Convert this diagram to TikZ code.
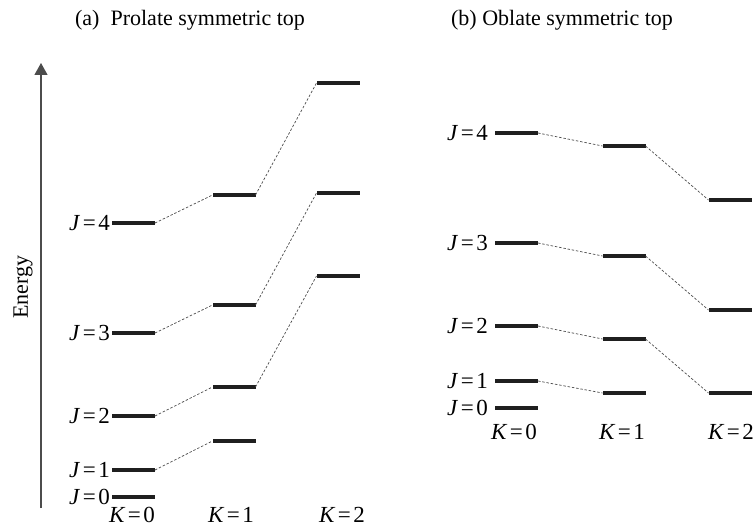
\documentclass[tikz,border=0pt]{standalone}
\usepackage{fontspec}
\setmainfont{Liberation Serif}
\usetikzlibrary{arrows.meta}
\newcommand{\qnum}[2]{\textit{#1}\kern2.5pt=\kern2.5pt#2}
\tikzset{
  lev/.style={fill=black!88, minimum width=43pt, minimum height=3.5pt, inner sep=0pt, outer sep=0pt},
  conn/.style={draw=black!70, line width=0.7pt, dash pattern=on 2.5pt off 1.8pt},
  jl/.style={anchor=east, inner sep=0pt, font=\fontsize{23}{25}\selectfont},
  kl/.style={anchor=base, inner sep=0pt, font=\fontsize{23}{25}\selectfont},
  ttl/.style={anchor=base, inner sep=0pt, font=\fontsize{22}{24}\selectfont},
}
\begin{document}
\begin{tikzpicture}[x=1pt,y=-1pt]
\useasboundingbox (0,0) rectangle (755,526);
% titles
\node[ttl] (ta) at (190,26) {(a)\ \ Prolate symmetric top};
\node[ttl] (tb) at (562,26) {(b) Oblate symmetric top};
% energy axis
\coordinate (ax0) at (41,508);
\coordinate (ax1) at (41,63);
\draw[black!70, line width=1.1pt, -{Triangle[width=13pt,length=12pt]}] (ax0) -- (ax1);
\node[rotate=90, inner sep=0pt, font=\fontsize{22}{24}\selectfont] (en) at (23,287) {Energy};
% prolate levels
\node[lev] (p00) at (133.5,497) {};
\node[lev] (p10) at (133.5,470) {};
\node[lev] (p20) at (133.5,416) {};
\node[lev] (p30) at (133.5,333) {};
\node[lev] (p40) at (133.5,223) {};
\node[lev] (p11) at (234,441) {};
\node[lev] (p21) at (234,387) {};
\node[lev] (p31) at (234,305) {};
\node[lev] (p41) at (234,195) {};
\node[lev] (p22) at (338,276) {};
\node[lev] (p32) at (338,193) {};
\node[lev] (p42) at (338,83) {};
\draw[conn] (p10.east) -- (p11.west);
\draw[conn] (p20.east) -- (p21.west);
\draw[conn] (p30.east) -- (p31.west);
\draw[conn] (p40.east) -- (p41.west);
\draw[conn] (p21.east) -- (p22.west);
\draw[conn] (p31.east) -- (p32.west);
\draw[conn] (p41.east) -- (p42.west);
\node[jl] (pj0) at ([xshift=-2pt]p00.west) {\qnum{J}{0}};
\node[jl] (pj1) at ([xshift=-2pt]p10.west) {\qnum{J}{1}};
\node[jl] (pj2) at ([xshift=-2pt]p20.west) {\qnum{J}{2}};
\node[jl] (pj3) at ([xshift=-2pt]p30.west) {\qnum{J}{3}};
\node[jl] (pj4) at ([xshift=-2pt]p40.west) {\qnum{J}{4}};
\node[kl] (pk0) at (132,522) {\qnum{K}{0}};
\node[kl] (pk1) at (231,522) {\qnum{K}{1}};
\node[kl] (pk2) at (342,522) {\qnum{K}{2}};
% oblate levels
\node[lev] (o00) at (516.5,408) {};
\node[lev] (o10) at (516.5,381) {};
\node[lev] (o20) at (516.5,326) {};
\node[lev] (o30) at (516.5,243) {};
\node[lev] (o40) at (516.5,133) {};
\node[lev] (o11) at (624,393) {};
\node[lev] (o21) at (624,339) {};
\node[lev] (o31) at (624,256) {};
\node[lev] (o41) at (624,146) {};
\node[lev] (o22) at (730,393) {};
\node[lev] (o32) at (730,310) {};
\node[lev] (o42) at (730,200) {};
\draw[conn] (o10.east) -- (o11.west);
\draw[conn] (o20.east) -- (o21.west);
\draw[conn] (o30.east) -- (o31.west);
\draw[conn] (o40.east) -- (o41.west);
\draw[conn] (o21.east) -- (o22.west);
\draw[conn] (o31.east) -- (o32.west);
\draw[conn] (o41.east) -- (o42.west);
\node[jl] (oj0) at ([xshift=-7pt]o00.west) {\qnum{J}{0}};
\node[jl] (oj1) at ([xshift=-7pt]o10.west) {\qnum{J}{1}};
\node[jl] (oj2) at ([xshift=-7pt]o20.west) {\qnum{J}{2}};
\node[jl] (oj3) at ([xshift=-7pt]o30.west) {\qnum{J}{3}};
\node[jl] (oj4) at ([xshift=-7pt]o40.west) {\qnum{J}{4}};
\node[kl] (ok0) at (514,439) {\qnum{K}{0}};
\node[kl] (ok1) at (622,439) {\qnum{K}{1}};
\node[kl] (ok2) at (731,439) {\qnum{K}{2}};
\end{tikzpicture}
\end{document}
